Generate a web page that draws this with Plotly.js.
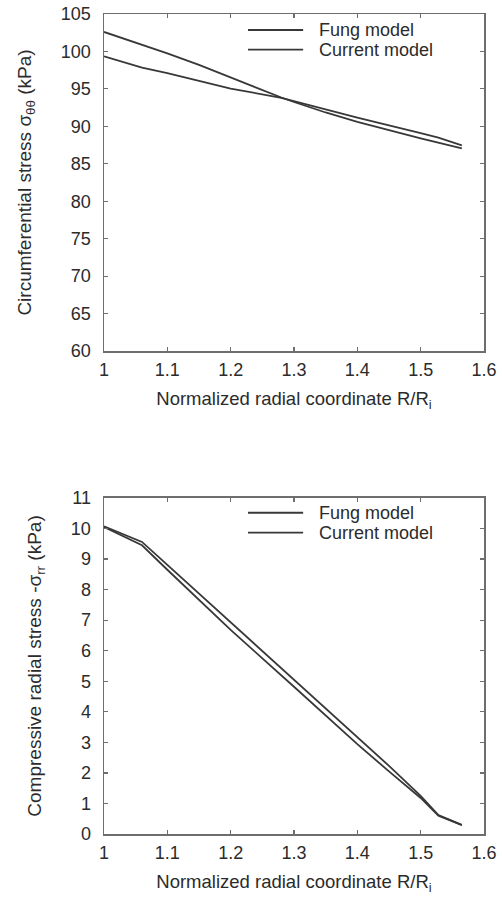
<!DOCTYPE html>
<html>
<head>
<meta charset="utf-8">
<script src="https://cdn.plot.ly/plotly-3.0.1.min.js"></script>
<style>
  html, body { margin: 0; padding: 0; background: #ffffff; }
  #chart { width: 502px; height: 899px; }
</style>
</head>
<body>
<div id="chart"></div>
<script>
// Circumferential stress sigma_theta-theta (kPa) against R/Ri
const fungThetaR = [1, 1.06, 1.1, 1.2, 1.28, 1.3, 1.4, 1.5, 1.528, 1.565];
const fungThetaS = [99.35, 97.85, 97.1, 95.05, 93.8, 93.35, 91.15, 89.1, 88.5, 87.45];
const currentThetaR = [1, 1.05, 1.1, 1.15, 1.2, 1.25, 1.28, 1.3, 1.35, 1.4, 1.45, 1.5, 1.565];
const currentThetaS = [102.6, 101.2, 99.75, 98.2, 96.5, 94.85, 93.85, 93.25, 91.85, 90.6, 89.45, 88.4, 87.05];

// Compressive radial stress -sigma_rr (kPa) against R/Ri
const radialR = [1, 1.06, 1.1, 1.2, 1.3, 1.4, 1.45, 1.5, 1.528, 1.565];
const fungRadialS = [10.07, 9.56, 8.81, 6.93, 5.05, 3.17, 2.23, 1.25, 0.62, 0.30];
const currentRadialS = [10.05, 9.45, 8.65, 6.68, 4.82, 2.94, 2.05, 1.18, 0.60, 0.29];

// Axis ticks
const xTickVals = [1, 1.1, 1.2, 1.3, 1.4, 1.5, 1.6];
const xTickText = ['1', '1.1', '1.2', '1.3', '1.4', '1.5', '1.6'];
const seriesNames = ['Fung model', 'Current model'];

const FONT = 'Liberation Sans, Arial, Helvetica, sans-serif';
const INK = '#2b2b2b';
const LINE = '#383838';
const FRAME = '#6e6e6e';

function curve(x, y, xa, ya, name) {
  return {
    type: 'scatter', mode: 'lines', x: x, y: y, xaxis: xa, yaxis: ya, name: name,
    line: { color: LINE, width: 1.8 }, showlegend: false, hoverinfo: 'x+y+name'
  };
}

const traces = [
  curve(fungThetaR, fungThetaS, 'x', 'y', seriesNames[0]),
  curve(currentThetaR, currentThetaS, 'x', 'y', seriesNames[1]),
  curve(radialR, fungRadialS, 'x2', 'y2', seriesNames[0]),
  curve(radialR, currentRadialS, 'x2', 'y2', seriesNames[1])
];

function xAxis(anchor) {
  return {
    anchor: anchor, domain: [0, 1], range: [1, 1.6],
    tickmode: 'array', tickvals: xTickVals, ticktext: xTickText,
    ticks: 'inside', ticklen: 4, tickwidth: 1.2, tickcolor: FRAME,
    showline: true, linecolor: FRAME, linewidth: 1.5, mirror: 'ticks',
    showgrid: false, zeroline: false,
    tickfont: { family: FONT, size: 18, color: INK },
    ticklabelstandoff: 2,
    title: { text: 'Normalized radial coordinate R/R<sub>i</sub>', font: { family: FONT, size: 18.5, color: INK }, standoff: 13 }
  };
}

function yAxis(anchor, domain, range, dtick, titleText) {
  return {
    anchor: anchor, domain: domain, range: range, tick0: 0, dtick: dtick,
    ticks: 'inside', ticklen: 4, tickwidth: 1.2, tickcolor: FRAME,
    showline: true, linecolor: FRAME, linewidth: 1.5, mirror: 'ticks',
    showgrid: false, zeroline: false,
    tickfont: { family: FONT, size: 18, color: INK },
    ticklabelstandoff: 8,
    title: { text: titleText, font: { family: FONT, size: 19, color: INK }, standoff: 24 }
  };
}

// Legend keys drawn inside each panel
function legendKeys(xa, ya, rows) {
  const shapes = [];
  const notes = [];
  rows.forEach(function (yy, i) {
    shapes.push({ type: 'line', xref: xa + ' domain', yref: ya + ' domain',
      x0: 0.379, x1: 0.524, y0: yy, y1: yy, line: { color: LINE, width: 1.8 } });
    notes.push({ xref: xa + ' domain', yref: ya + ' domain', x: 0.56, y: yy,
      xanchor: 'left', yanchor: 'middle', showarrow: false, text: seriesNames[i],
      font: { family: FONT, size: 18, color: INK } });
  });
  return { shapes: shapes, notes: notes };
}

const legTop = legendKeys('x', 'y', [0.9525, 0.894]);
const legBottom = legendKeys('x2', 'y2', [0.956, 0.897]);

const layout = {
  width: 502, height: 899,
  margin: { l: 104, r: 18, t: 14, b: 65 },
  paper_bgcolor: '#ffffff', plot_bgcolor: '#ffffff',
  showlegend: false,
  xaxis: xAxis('y'),
  yaxis: yAxis('x', [0.589, 1], [60, 105], 5, 'Circumferential stress σ<sub>θθ</sub> (kPa)'),
  xaxis2: xAxis('y2'),
  yaxis2: yAxis('x2', [0, 0.4098], [0, 11], 1, 'Compressive radial stress -σ<sub>rr</sub> (kPa)'),
  shapes: legTop.shapes.concat(legBottom.shapes),
  annotations: legTop.notes.concat(legBottom.notes)
};

Plotly.newPlot('chart', traces, layout, { staticPlot: true, displayModeBar: false });
</script>
</body>
</html>
